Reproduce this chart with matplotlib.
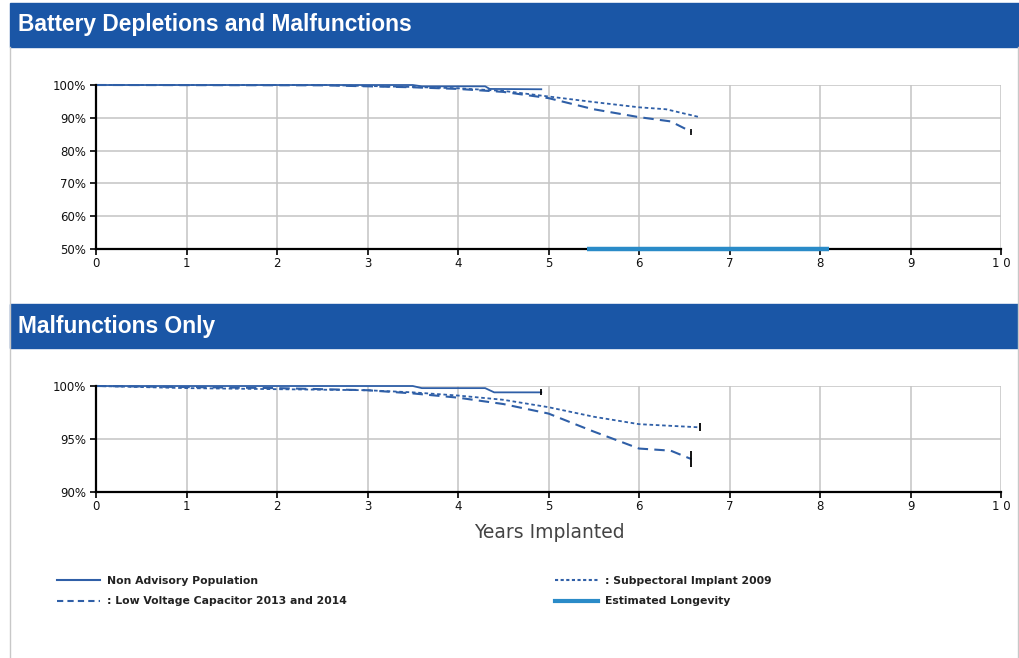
import matplotlib
matplotlib.use("Agg")
import matplotlib.pyplot as plt
from matplotlib import font_manager
from matplotlib.patches import Rectangle
from matplotlib.lines import Line2D

# chart values

# battery depletions and malfunctions
top_solid_x = [0, 3.5, 3.6, 4.3, 4.35, 4.92]
top_solid_y = [100, 100, 99.6, 99.6, 98.8, 98.7]
top_dash_x = [0, 2.5, 3, 3.5, 4, 4.5, 5, 5.5, 6, 6.35, 6.58]
top_dash_y = [100, 99.9, 99.6, 99.3, 98.8, 97.9, 96.0, 92.6, 90.2, 88.9, 85.7]
top_dot_x = [0, 2.5, 3, 3.5, 4, 4.5, 5, 5.5, 6, 6.3, 6.67]
top_dot_y = [100, 100, 99.7, 99.4, 99.0, 98.2, 96.5, 94.8, 93.2, 92.6, 90.2]
longevity_x = [5.42, 8.1]
longevity_y = [50, 50]

# malfunctions only
bot_solid_x = [0, 3.5, 3.6, 4.3, 4.4, 4.92]
bot_solid_y = [100, 100, 99.8, 99.8, 99.4, 99.4]
bot_dash_x = [0, 1, 2, 3, 3.5, 4, 4.5, 5, 5.5, 6, 6.35, 6.58]
bot_dash_y = [100, 99.9, 99.8, 99.6, 99.3, 98.9, 98.3, 97.4, 95.7, 94.1, 93.9, 93.1]
bot_dot_x = [0, 1, 2, 3, 3.5, 4, 4.5, 5, 5.5, 6, 6.67]
bot_dot_y = [100, 99.8, 99.7, 99.6, 99.4, 99.1, 98.7, 98.0, 97.1, 96.4, 96.1]

xticks = list(range(0, 11))
top_yticks = [50, 60, 70, 80, 90, 100]
bot_yticks = [90, 95, 100]

labels = ["Non Advisory Population",
          ": Low Voltage Capacitor 2013 and 2014",
          ": Subpectoral Implant 2009",
          "Estimated Longevity"]

W, H = 1019, 658
LINE = "#2f5fa7"
LONG = "#2a8bc8"
HEAD = "#1a56a6"

# pick the regular-width Liberation Sans Bold file (not the Narrow one)
head_font = None
for f in font_manager.fontManager.ttflist:
    if f.name == "Liberation Sans" and f.weight in (700, "bold") \
            and "narrow" not in f.fname.lower() and f.style == "normal":
        head_font = font_manager.FontProperties(fname=f.fname, size=16.4)
        break
if head_font is None:
    head_font = font_manager.FontProperties(family="DejaVu Sans", weight="bold", size=15)

fig = plt.figure(figsize=(W / 100, H / 100), dpi=100)
fig.patch.set_facecolor("white")


def px_box(left, top, right, bottom):
    return [left / W, 1 - bottom / H, (right - left) / W, (bottom - top) / H]


# header bars and frame
for top, text in [(3, "Battery Depletions and Malfunctions"), (304, "Malfunctions Only")]:
    fig.patches.append(Rectangle((10 / W, 1 - (top + 44) / H), 1009 / W, 44 / H,
                                 transform=fig.transFigure, color=HEAD, zorder=0))
    fig.text(18 / W, 1 - (top + 22) / H, text, color="white",
             fontproperties=head_font, va="center", ha="left")
fig.lines.append(Line2D([10 / W, 10 / W], [0, 1 - 47 / H], transform=fig.transFigure,
                        color="#c8c8c8", lw=1))
fig.lines.append(Line2D([1018 / W, 1018 / W], [0, 1 - 47 / H], transform=fig.transFigure,
                        color="#c8c8c8", lw=1))


def style_axes(ax, yticks, ylim):
    ax.set_xlim(0, 10)
    ax.set_ylim(*ylim)
    ax.set_xticks(xticks)
    ax.set_xticklabels([" ".join(str(t)) for t in xticks])
    ax.set_yticks(yticks)
    ax.set_yticklabels([f"{t}%" for t in yticks])
    ax.grid(True, color="#c4c4c4", lw=1.1)
    ax.set_axisbelow(True)
    for s in ["top", "right"]:
        ax.spines[s].set_visible(False)
    for s in ["left", "bottom"]:
        ax.spines[s].set_linewidth(1.6)
        ax.spines[s].set_color("black")
        ax.spines[s].set_zorder(5)
    ax.tick_params(axis="both", length=4, width=1.2, color="black",
                   labelsize=8.5, labelcolor="#111111", pad=2)
    ax.tick_params(axis="y", pad=3)


ax1 = fig.add_axes(px_box(96, 85, 1001, 249))
style_axes(ax1, top_yticks, (50, 100))
ax1.plot(top_dot_x, top_dot_y, color=LINE, lw=1.3, ls=(0, (2, 1.5)), clip_on=False)
ax1.plot(top_dash_x, top_dash_y, color=LINE, lw=1.5, ls=(0, (5, 3)), clip_on=False)
ax1.plot(top_solid_x, top_solid_y, color=LINE, lw=1.3, clip_on=False)
ax1.plot(longevity_x, longevity_y, color=LONG, lw=3.2, clip_on=False, zorder=6,
         solid_capstyle="butt")
ax1.plot(top_dash_x[-1], top_dash_y[-1], marker="|", color="black", ms=4, mew=1.2)

ax2 = fig.add_axes(px_box(96, 386, 1001, 492))
style_axes(ax2, bot_yticks, (90, 100))
ax2.plot(bot_dot_x, bot_dot_y, color=LINE, lw=1.3, ls=(0, (2, 1.5)), clip_on=False)
ax2.plot(bot_dash_x, bot_dash_y, color=LINE, lw=1.5, ls=(0, (5, 3)), clip_on=False)
ax2.plot(bot_solid_x, bot_solid_y, color=LINE, lw=1.3, clip_on=False)
for xs, ys, ms in [(bot_solid_x, bot_solid_y, 5), (bot_dot_x, bot_dot_y, 6),
                   (bot_dash_x, bot_dash_y, 11)]:
    ax2.plot(xs[-1], ys[-1], marker="|", color="black", ms=ms, mew=1.3)

fig.text(549 / W, 1 - 532 / H, "Years Implanted", fontsize=13.5, color="#444444",
         ha="center", va="center")

# legend, two columns
handles = [Line2D([], [], color=LINE, lw=1.5),
           Line2D([], [], color=LINE, lw=1.5, ls=(0, (3, 2))),
           Line2D([], [], color=LINE, lw=1.5, ls=(0, (1.5, 1.2))),
           Line2D([], [], color=LONG, lw=3)]
leg_kw = dict(frameon=False, handlelength=4.0, handletextpad=0.6,
              labelspacing=0.95, borderpad=0, borderaxespad=0, loc="upper left",
              prop={"size": 7.8, "weight": "bold"})
l1 = fig.legend(handles[:2], labels[:2], bbox_to_anchor=(57 / W, 1 - 576 / H), **leg_kw)
l2 = fig.legend(handles[2:], labels[2:], bbox_to_anchor=(555 / W, 1 - 576 / H), **leg_kw)
for leg in (l1, l2):
    for t in leg.get_texts():
        t.set_color("#222222")

fig.savefig("out.png", dpi=100)
